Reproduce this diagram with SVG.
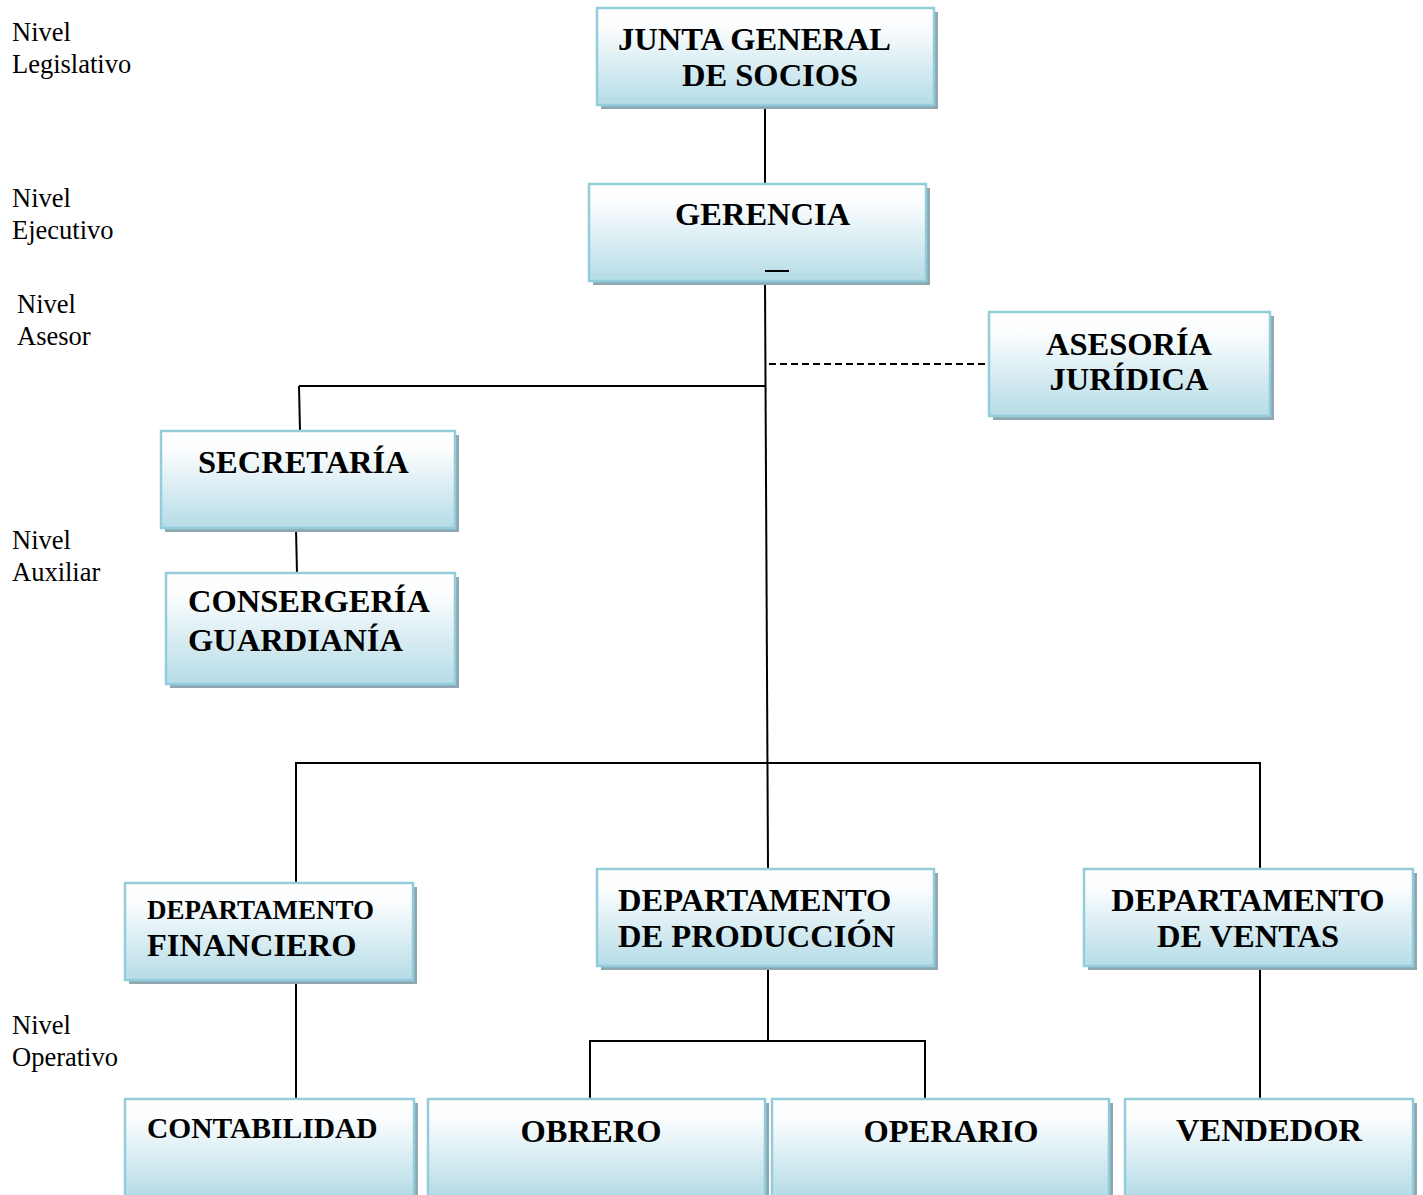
<svg xmlns="http://www.w3.org/2000/svg" width="1423" height="1195" viewBox="0 0 1423 1195">
  <defs>
    <linearGradient id="boxFill" x1="0" y1="0" x2="0" y2="1">
      <stop offset="0" stop-color="#ffffff"/>
      <stop offset="0.2" stop-color="#fbfdfe"/>
      <stop offset="1" stop-color="#b5dce7"/>
    </linearGradient>
  </defs>
  <style>
    .shadow { fill: #8ea7b0; }
    .box { fill: url(#boxFill); stroke: #93cddc; stroke-width: 2.5; }
    .t { font-family: "Liberation Serif", "Times New Roman", serif; font-weight: bold; font-size: 32.5px; fill: #000; }
    .lvl { font-family: "Liberation Serif", "Times New Roman", serif; font-size: 26.5px; fill: #000; }
    .ln { stroke: #000; stroke-width: 2; fill: none; }
    .dash { stroke: #000; stroke-width: 2; stroke-dasharray: 7 4; fill: none; }
  </style>
  <rect width="1423" height="1195" fill="#ffffff"/>

  <!-- hierarchy level captions -->
  <g id="levels">
    <text class="lvl" x="12" y="41">Nivel</text>
    <text class="lvl" x="12" y="73">Legislativo</text>
    <text class="lvl" x="12" y="207">Nivel</text>
    <text class="lvl" x="12" y="239">Ejecutivo</text>
    <text class="lvl" x="17" y="313">Nivel</text>
    <text class="lvl" x="17" y="345">Asesor</text>
    <text class="lvl" x="12" y="549">Nivel</text>
    <text class="lvl" x="12" y="581">Auxiliar</text>
    <text class="lvl" x="12" y="1034">Nivel</text>
    <text class="lvl" x="12" y="1066">Operativo</text>
  </g>

  <!-- connectors -->
  <g id="connectors">
    <line class="ln" x1="765" y1="106" x2="765" y2="184"/>
    <line class="ln" x1="765" y1="282" x2="768" y2="869"/>
    <line class="ln" x1="299" y1="386" x2="766" y2="386"/>
    <line class="ln" x1="299" y1="386" x2="300" y2="431"/>
    <line class="dash" x1="769" y1="364" x2="988" y2="364"/>
    <line class="ln" x1="296" y1="529" x2="297" y2="573"/>
    <line class="ln" x1="295" y1="763" x2="1261" y2="763"/>
    <line class="ln" x1="296" y1="763" x2="296" y2="883"/>
    <line class="ln" x1="1260" y1="763" x2="1260" y2="869"/>
    <line class="ln" x1="296" y1="981" x2="296" y2="1099"/>
    <line class="ln" x1="768" y1="967" x2="768" y2="1041"/>
    <line class="ln" x1="589" y1="1041" x2="926" y2="1041"/>
    <line class="ln" x1="590" y1="1041" x2="590" y2="1099"/>
    <line class="ln" x1="925" y1="1041" x2="925" y2="1099"/>
    <line class="ln" x1="1260" y1="967" x2="1260" y2="1099"/>
  </g>

  <g id="junta">
    <rect class="shadow" x="601" y="12" width="337" height="97"/>
    <rect class="box" x="597" y="8" width="337" height="97"/>
    <text class="t" x="618" y="50">JUNTA GENERAL</text>
    <text class="t" x="682" y="86">DE SOCIOS</text>
  </g>

  <g id="gerencia">
    <rect class="shadow" x="593" y="188" width="337" height="97"/>
    <rect class="box" x="589" y="184" width="337" height="97"/>
    <text class="t" x="675" y="225">GERENCIA</text>
    <line x1="765" y1="271" x2="789" y2="271" stroke="#000" stroke-width="2"/>
  </g>

  <g id="asesoria">
    <rect class="shadow" x="993" y="316" width="281" height="104"/>
    <rect class="box" x="989" y="312" width="281" height="104"/>
    <text class="t" x="1129" y="355" text-anchor="middle">ASESORÍA</text>
    <text class="t" x="1129" y="390" text-anchor="middle">JURÍDICA</text>
  </g>

  <g id="secretaria">
    <rect class="shadow" x="165" y="435" width="294" height="97"/>
    <rect class="box" x="161" y="431" width="294" height="97"/>
    <text class="t" x="198" y="473">SECRETARÍA</text>
  </g>

  <g id="consergeria">
    <rect class="shadow" x="170" y="577" width="289" height="111"/>
    <rect class="box" x="166" y="573" width="289" height="111"/>
    <text class="t" x="188" y="612">CONSERGERÍA</text>
    <text class="t" x="188" y="651">GUARDIANÍA</text>
  </g>

  <g id="dep-financiero">
    <rect class="shadow" x="129" y="887" width="288" height="97"/>
    <rect class="box" x="125" y="883" width="288" height="97"/>
    <text class="t" font-size="27" x="147" y="919" style="font-size:27px">DEPARTAMENTO</text>
    <text class="t" x="147" y="956">FINANCIERO</text>
  </g>

  <g id="dep-produccion">
    <rect class="shadow" x="601" y="873" width="337" height="97"/>
    <rect class="box" x="597" y="869" width="337" height="97"/>
    <text class="t" x="618" y="911">DEPARTAMENTO</text>
    <text class="t" x="618" y="947">DE PRODUCCIÓN</text>
  </g>

  <g id="dep-ventas">
    <rect class="shadow" x="1088" y="873" width="329" height="97"/>
    <rect class="box" x="1084" y="869" width="329" height="97"/>
    <text class="t" x="1248" y="911" text-anchor="middle">DEPARTAMENTO</text>
    <text class="t" x="1248" y="947" text-anchor="middle">DE VENTAS</text>
  </g>

  <g id="contabilidad">
    <rect class="shadow" x="129" y="1103" width="289" height="97"/>
    <rect class="box" x="125" y="1099" width="289" height="97"/>
    <text class="t" x="147" y="1138" style="font-size:29.5px">CONTABILIDAD</text>
  </g>

  <g id="obrero">
    <rect class="shadow" x="432" y="1103" width="337" height="97"/>
    <rect class="box" x="428" y="1099" width="337" height="97"/>
    <text class="t" x="591" y="1142" text-anchor="middle">OBRERO</text>
  </g>

  <g id="operario">
    <rect class="shadow" x="776" y="1103" width="337" height="97"/>
    <rect class="box" x="772" y="1099" width="337" height="97"/>
    <text class="t" x="951" y="1142" text-anchor="middle">OPERARIO</text>
  </g>

  <g id="vendedor">
    <rect class="shadow" x="1129" y="1103" width="288" height="97"/>
    <rect class="box" x="1125" y="1099" width="288" height="97"/>
    <text class="t" x="1269" y="1141" text-anchor="middle">VENDEDOR</text>
  </g>
</svg>
